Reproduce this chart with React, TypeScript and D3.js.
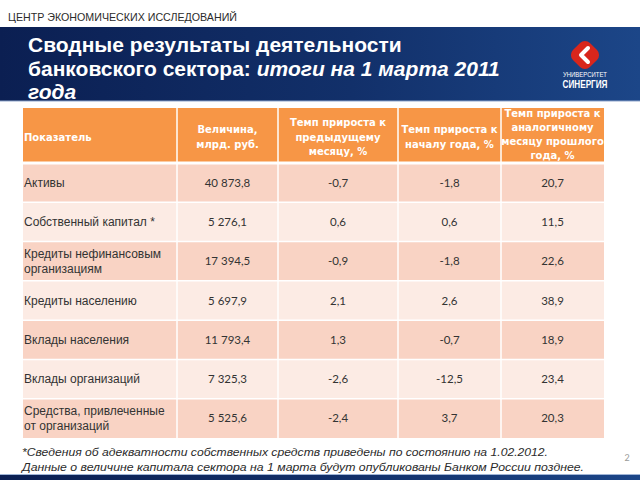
import React, { useEffect, useRef } from "react";
import * as d3 from "d3";

const headerLabels = [
  ["Показатель"],
  ["Величина,", "млрд. руб."],
  ["Темп прироста к", "предыдущему", "месяцу, %"],
  ["Темп прироста к", "началу года, %"],
  ["Темп прироста к", "аналогичному", "месяцу прошлого", "года, %"],
];

const indicators = [
  ["Активы"],
  ["Собственный капитал *"],
  ["Кредиты нефинансовым", "организациям"],
  ["Кредиты населению"],
  ["Вклады населения"],
  ["Вклады организаций"],
  ["Средства, привлеченные", "от организаций"],
];

const amounts = ["40 873,8", "5 276,1", "17 394,5", "5 697,9", "11 793,4", "7 325,3", "5 525,6"];
const growthMonth = ["-0,7", "0,6", "-0,9", "2,1", "1,3", "-2,6", "-2,4"];
const growthYearStart = ["-1,8", "0,6", "-1,8", "2,6", "-0,7", "-12,5", "3,7"];
const growthYearAgo = ["20,7", "11,5", "22,6", "38,9", "18,9", "23,4", "20,3"];

const footnotes = [
  "*Сведения об адекватности собственных средств приведены по состоянию на 1.02.2012.",
  "Данные о величине капитала сектора на 1 марта будут опубликованы Банком России позднее.",
];

const W = 640;
const H = 480;

const App = () => {
  const svgRef = useRef(null);

  useEffect(() => {
    const svg = d3.select(svgRef.current);
    svg.selectAll("*").remove();

    const defs = svg.append("defs");
    const grad = defs.append("linearGradient").attr("id", "banner").attr("x1", 0).attr("x2", 1);
    grad.append("stop").attr("offset", "0%").attr("stop-color", "#0b1f52");
    grad.append("stop").attr("offset", "55%").attr("stop-color", "#12306a");
    grad.append("stop").attr("offset", "100%").attr("stop-color", "#1c4688");

    const sans = "'Liberation Sans', Arial, sans-serif";
    const body = "Lato, 'Open Sans', sans-serif";

    svg.append("rect").attr("width", W).attr("height", H).attr("fill", "#ffffff");

    // top caption
    svg.append("text")
      .attr("x", 8).attr("y", 21)
      .attr("font-family", sans).attr("font-size", 10.5)
      .attr("fill", "#2b2b2b")
      .attr("textLength", 229).attr("lengthAdjust", "spacingAndGlyphs")
      .text("ЦЕНТР ЭКОНОМИЧЕСКИХ ИССЛЕДОВАНИЙ");

    // title banner
    svg.append("rect").attr("x", 0).attr("y", 27).attr("width", W).attr("height", 74).attr("fill", "url(#banner)");
    svg.append("line").attr("x1", 0).attr("x2", W).attr("y1", 101).attr("y2", 101).attr("stroke", "#8fa6cc").attr("stroke-width", 1);

    const title = svg.append("g").attr("font-family", sans).attr("font-weight", "bold").attr("font-size", 21).attr("fill", "#ffffff");
    title.append("text").attr("x", 28).attr("y", 52).text("Сводные результаты деятельности");
    const t2 = title.append("text").attr("x", 28).attr("y", 76);
    t2.append("tspan").text("банковского сектора: ");
    t2.append("tspan").attr("font-style", "italic").text("итоги на 1 марта 2011");
    title.append("text").attr("x", 28).attr("y", 99).attr("font-style", "italic").text("года");

    // logo
    const logo = svg.append("g").attr("transform", "translate(585,55)");
    logo.append("rect")
      .attr("x", -12).attr("y", -12).attr("width", 24).attr("height", 24)
      .attr("rx", 7).attr("fill", "#d8261c")
      .attr("transform", "rotate(45)");
    logo.append("path").attr("d", "M3,-7 L-4,0 L3,7").attr("fill", "none").attr("stroke", "#ffffff").attr("stroke-width", 4).attr("stroke-linecap", "round").attr("stroke-linejoin", "round");
    svg.append("text").attr("x", 585).attr("y", 77).attr("text-anchor", "middle")
      .attr("font-family", sans).attr("font-size", 7).attr("fill", "#ffffff")
      .attr("textLength", 44).attr("lengthAdjust", "spacingAndGlyphs").text("УНИВЕРСИТЕТ");
    svg.append("text").attr("x", 585).attr("y", 88).attr("text-anchor", "middle")
      .attr("font-family", sans).attr("font-size", 10).attr("font-weight", "bold").attr("fill", "#ffffff")
      .attr("textLength", 45).attr("lengthAdjust", "spacingAndGlyphs").text("СИНЕРГИЯ");

    // table
    const colEdges = [23, 177, 278, 398, 501, 604];
    const colX = (i) => colEdges[i];
    const colW = (i) => colEdges[i + 1] - colEdges[i];
    const headerTop = 108;
    const headerBottom = 163;
    const tableBottom = 438;

    const y = d3.scaleBand()
      .domain(d3.range(indicators.length))
      .range([headerBottom, tableBottom]);

    const table = svg.append("g");

    // header cells
    headerLabels.forEach((lines, c) => {
      table.append("rect")
        .attr("x", colX(c)).attr("y", headerTop)
        .attr("width", colW(c)).attr("height", headerBottom - headerTop)
        .attr("fill", "#f79646");
    });

    const rowFill = (i) => (i % 2 === 0 ? "#f9d3c4" : "#fcebe4");
    const columns = [indicators, amounts, growthMonth, growthYearStart, growthYearAgo];

    indicators.forEach((_, r) => {
      columns.forEach((_, c) => {
        table.append("rect")
          .attr("x", colX(c)).attr("y", y(r))
          .attr("width", colW(c)).attr("height", y.bandwidth())
          .attr("fill", rowFill(r));
      });
    });

    // white grid lines
    colEdges.slice(1, -1).forEach((x) => {
      table.append("line").attr("x1", x).attr("x2", x).attr("y1", headerTop).attr("y2", tableBottom)
        .attr("stroke", "#ffffff").attr("stroke-width", 1.5);
    });
    d3.range(indicators.length).forEach((r) => {
      table.append("line").attr("x1", colEdges[0]).attr("x2", colEdges[5]).attr("y1", y(r)).attr("y2", y(r))
        .attr("stroke", "#ffffff").attr("stroke-width", r === 0 ? 3 : 1.5);
    });

    // header text
    const headLine = 14.5;
    headerLabels.forEach((lines, c) => {
      const mid = (headerTop + headerBottom) / 2 + 1;
      const start = c === 4 ? 117 : mid - ((lines.length - 1) * headLine) / 2 + 4;
      const t = table.append("text")
        .attr("font-family", "'DejaVu Sans', sans-serif").attr("font-weight", "bold")
        .attr("font-size", 10).attr("fill", "#ffffff")
        .attr("text-anchor", c === 0 ? "start" : "middle");
      lines.forEach((line, k) => {
        t.append("tspan")
          .attr("x", c === 0 ? colX(0) + 1 : colX(c) + colW(c) / 2)
          .attr("y", start + k * (c === 4 ? 14 : headLine))
          .text(line);
      });
    });

    // body text
    indicators.forEach((lines, r) => {
      const cy = y(r) + y.bandwidth() / 2;
      const t = table.append("text")
        .attr("font-family", sans).attr("font-size", 12).attr("fill", "#333333");
      lines.forEach((line, k) => {
        t.append("tspan")
          .attr("x", colX(0) + 1)
          .attr("y", cy + 4 + (k - (lines.length - 1) / 2) * 15)
          .text(line);
      });
      columns.slice(1).forEach((col, j) => {
        const c = j + 1;
        table.append("text")
          .attr("x", colX(c) + colW(c) / 2).attr("y", cy + 4)
          .attr("text-anchor", "middle")
          .attr("font-family", body).attr("font-size", 11.5).attr("fill", "#333333")
          .text(col[r]);
      });
    });

    // footnotes
    footnotes.forEach((line, k) => {
      svg.append("text")
        .attr("x", 22).attr("y", 456 + k * 15)
        .attr("font-family", sans).attr("font-style", "italic")
        .attr("font-size", 11).attr("fill", "#2b2b2b")
        .attr("textLength", k === 0 ? 526 : 562).attr("lengthAdjust", "spacingAndGlyphs")
        .text(line);
    });

    svg.append("text").attr("x", 627).attr("y", 461).attr("text-anchor", "middle")
      .attr("font-family", body).attr("font-size", 9).attr("fill", "#9a9a9a").text("2");

    // bottom bar
    svg.append("rect").attr("x", 0).attr("y", 474).attr("width", W).attr("height", 6).attr("fill", "url(#banner)");
    svg.append("line").attr("x1", 0).attr("x2", W).attr("y1", 474.5).attr("y2", 474.5).attr("stroke", "#9fb4d6");
  }, []);

  return (
    <svg
      ref={svgRef}
      width={W}
      height={H}
      style={{ position: "absolute", left: 0, top: 0, display: "block" }}
    />
  );
};

export default App;
